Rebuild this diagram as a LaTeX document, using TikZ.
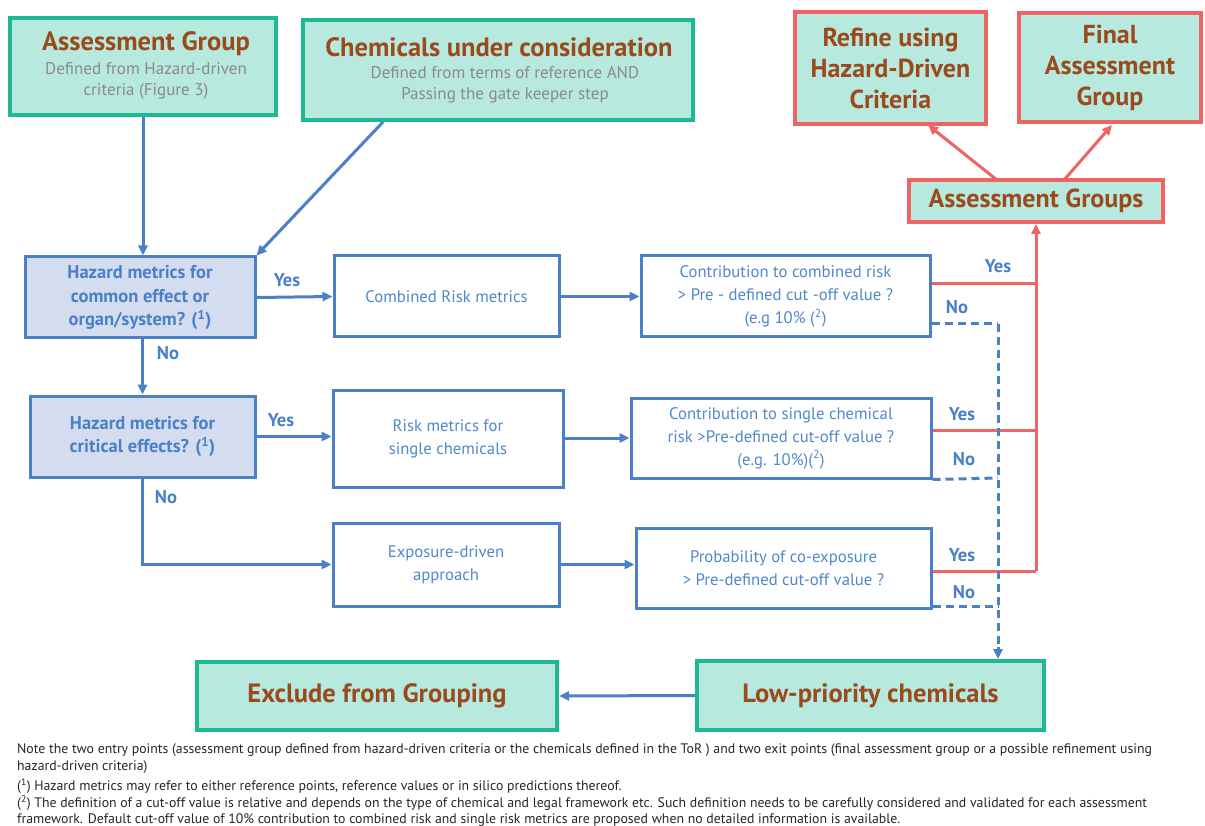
\documentclass[tikz,border=0pt]{standalone}
\usepackage{fontspec}
\setmainfont{PT Sans}
\usetikzlibrary{arrows.meta}
\definecolor{gborder}{HTML}{1DB894}
\definecolor{gfill}{HTML}{B7E9DF}
\definecolor{rborder}{HTML}{EF6363}
\definecolor{tbrown}{HTML}{9A4A1C}
\definecolor{bline}{HTML}{4A80C6}
\definecolor{btext}{HTML}{5088CC}
\definecolor{bfill}{HTML}{D3DDEF}
\definecolor{gtext}{HTML}{8A8A8A}
\tikzset{
  gbox/.style={draw=gborder, fill=gfill, line width=4pt, align=center, inner sep=2pt},
  rbox/.style={draw=rborder, fill=gfill, line width=4pt, align=center, inner sep=2pt, text=tbrown, font=\fontsize{26}{31}\selectfont\bfseries},
  qbox/.style={draw=bline, fill=bfill, line width=3pt, align=center, text=bline, font=\fontsize{18.5}{23.5}\selectfont\bfseries},
  wbox/.style={draw=bline, fill=white, line width=3pt, align=center, text=btext, font=\fontsize{16.7}{23}\selectfont},
  conn/.style={draw=bline, line width=3pt, -{Triangle[length=10pt,width=9pt]}},
  rconn/.style={draw=rborder, line width=3pt},
  rarr/.style={draw=rborder, line width=3pt, -{Triangle[length=10pt,width=9pt]}},
  dconn/.style={draw=bline, line width=3pt, dash pattern=on 8pt off 5pt},
  lab/.style={text=bline, font=\fontsize{18.5}{20}\selectfont\bfseries},
  foot/.style={anchor=west, inner sep=0pt, font=\fontsize{13.8}{15}\selectfont, text=black!85},
  ttl/.style={text=tbrown, font=\fontsize{26.5}{30}\selectfont\bfseries},
  sub/.style={text=gtext, align=center, font=\fontsize{17}{21}\selectfont}
}
\begin{document}
\begin{tikzpicture}[x=1pt,y=-1pt]
\path[fill=white] (0,0) rectangle (1205,826);
\useasboundingbox (0,0) rectangle (1205,826);
% top boxes
\node[gbox, minimum width=266pt, minimum height=97pt] (ag) at (143,67) {};
\node[ttl] (agT) at (146,44) {Assessment Group};
\node[sub] (agS) at (146,81) {Defined from Hazard-driven\\criteria (Figure 3)};
\node[gbox, minimum width=390pt, minimum height=100pt] (chem) at (498,70) {};
\node[ttl] (chemT) at (499,47) {Chemicals under consideration};
\node[sub] (chemS) at (505,85) {Defined from terms of reference AND\\Passing the gate keeper step};
\node[rbox, minimum width=191pt, minimum height=112pt] (refine) at (890.5,68) {Refine using\\Hazard-Driven\\Criteria};
\node[rbox, minimum width=182pt, minimum height=109pt] (final) at (1110,67.5) {Final\\Assessment\\Group};
\node[rbox, minimum width=254pt, minimum height=42pt] (agrp) at (1036,201) {Assessment Groups};
% left questions
\node[qbox, minimum width=230pt, minimum height=81pt] (hc) at (140,297.5) {Hazard metrics for\\common effect or\\organ/system? (\textsuperscript{1})};
\node[qbox, minimum width=225pt, minimum height=81pt] (hcrit) at (142.5,436.5) {Hazard metrics for\\critical effects? (\textsuperscript{1})};
% middle
\node[wbox, minimum width=225pt, minimum height=81pt] (crm) at (446.5,296.5) {Combined Risk metrics};
\node[wbox, minimum width=230pt, minimum height=97pt] (rms) at (448,438.5) {Risk metrics for\\single chemicals};
\node[wbox, minimum width=226pt, minimum height=83pt] (exp) at (446,564.5) {Exposure-driven\\approach};
% right questions
\node[wbox, minimum width=289pt, minimum height=81pt] (cc) at (785.5,296.5) {Contribution to combined risk\\> Pre - defined cut -off value ?\\(e.g 10\% (\textsuperscript{2})};
\node[wbox, minimum width=300pt, minimum height=80pt] (cs) at (781,438) {Contribution to single chemical\\risk >Pre-defined cut-off value ?\\(e.g. 10\%)(\textsuperscript{2})};
\node[wbox, minimum width=295pt, minimum height=80pt] (prob) at (783.5,568) {Probability of co-exposure\\> Pre-defined cut-off value ?};
% bottom
\node[gbox, minimum width=360pt, minimum height=68pt, ttl] (excl) at (377,696) {Exclude from Grouping};
\node[gbox, minimum width=347pt, minimum height=69pt, ttl] (low) at (870.5,695.5) {Low-priority chemicals};

% blue connectors
\draw[conn] (ag.south) -- (ag.south |- hc.north);
\coordinate (chs) at (383,122);
\draw[conn] (chs) -- (hc.north east);
\draw[conn] (hc.east) -- (crm.west);
\node[lab] (y1) at (287,280) {Yes};
\draw[conn] (hc.south -| hcrit.north) -- (hcrit.north);
\node[lab] (n1) at (168,353) {No};
\draw[conn] (hcrit.east) -- (rms.west |- hcrit.east);
\node[lab] (y2) at (281,420) {Yes};
\draw[conn] (hcrit.south) |- (exp.west);
\node[lab] (n2) at (166,497) {No};
\draw[conn] (crm.east) -- (cc.west);
\draw[conn] (rms.east |- cs.west) -- (cs.west);
\draw[conn] (exp.east) -- (prob.west |- exp.east);
\draw[conn] (low.west) -- (excl.east);

% red connectors
\coordinate (r1) at (1036,284);
\coordinate (r2) at (1036,430);
\coordinate (r3) at (1036,571);
\draw[rconn] ([yshift=12.5pt]cc.east) -- (r1);
\draw[rconn] ([yshift=8pt]cs.east) -- (r2);
\draw[rconn] ([yshift=-3pt]prob.east) -- (r3);
\draw[rarr] (r3) -- (agrp.south);
\node[lab] (y3) at (998,266) {Yes};
\node[lab] (y4) at (962,414) {Yes};
\node[lab] (y5) at (962,555) {Yes};
\coordinate (ar1) at (997,180);
\coordinate (ar2) at (1064,180);
\draw[rarr] (ar1) -- (928,125);
\draw[rarr] (ar2) -- (1112,125);

% dashed no connectors
\coordinate (d1) at (998,324);
\coordinate (d2) at (998,478);
\coordinate (d3) at (998,606);
\draw[dconn] ([yshift=-27.5pt]cc.east) -- (d1);
\draw[dconn] (d1) -- ([yshift=10pt]d1 |- low.north);
\draw[conn] ([yshift=12pt]d1 |- low.north) -- (d1 |- low.north);
\draw[dconn] (cs.south east) -- (d2);
\draw[dconn] ([yshift=-38pt]prob.east) -- (d3);
\node[lab] (n3) at (957,307) {No};
\node[lab] (n4) at (964,459) {No};
\node[lab] (n5) at (964,592) {No};

% footnotes
\node[foot] (f1) at (17,750) {Note the two entry points (assessment group defined from hazard-driven criteria or the chemicals defined in the ToR ) and two exit points (final assessment group or a possible refinement using};
\node[foot] (f2) at (17,767) {hazard-driven criteria)};
\node[foot] (f3) at (17,786) {(\textsuperscript{1}) Hazard metrics may refer to either reference points, reference values or in silico predictions thereof.};
\node[foot] (f4) at (17,803) {(\textsuperscript{2}) The definition of a cut-off value is relative and depends on the type of chemical and legal framework etc. Such definition needs to be carefully considered and validated for each assessment};
\node[foot] (f5) at (17,820) {framework. Default cut-off value of 10\% contribution to combined risk and single risk metrics are proposed when no detailed information is available.};
\end{tikzpicture}
\end{document}
